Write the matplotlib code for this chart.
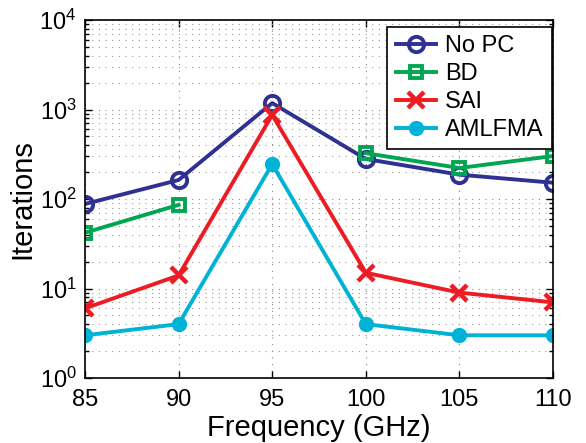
import matplotlib
matplotlib.use("Agg")
import matplotlib.pyplot as plt
import numpy as np

plt.rcParams['font.family'] = ['Liberation Sans', 'DejaVu Sans']
plt.rcParams['mathtext.fontset'] = 'custom'
plt.rcParams['mathtext.rm'] = 'Liberation Sans'
plt.rcParams['mathtext.it'] = 'Liberation Sans:italic'
plt.rcParams['mathtext.bf'] = 'Liberation Sans:bold'

freq = [85, 90, 95, 100, 105, 110]
no_pc = [88, 163, 1180, 280, 187, 152]
bd = [42, 86, np.nan, 325, 222, 302]
sai = [6, 14, 870, 15, 9, 7]
amlfma = [3, 4, 245, 4, 3, 3]
labels = ["No PC", "BD", "SAI", "AMLFMA"]

fig = plt.figure(figsize=(5.86, 4.43), dpi=100)
ax = fig.add_axes([85/586, 1-378/443, (553-85)/586, (378-20)/443])

lw = 2.8
ax.plot(freq, no_pc, color='#2e3192', lw=lw, marker='o', ms=11, mfc='none', mew=2.8, label=labels[0])
ax.plot(freq, bd, color='#00a651', lw=lw, marker='s', ms=9, mfc='none', mew=2.8, label=labels[1])
ax.plot(freq, sai, color='#ed1c24', lw=lw, marker='x', ms=12, mew=3.2, label=labels[2])
ax.plot(freq, amlfma, color='#00b2d6', lw=lw, marker='o', ms=10, label=labels[3])

ax.set_yscale('log')
ax.set_xlim(85, 110)
ax.set_ylim(1, 1e4)
ax.set_xticks(freq)
ax.set_yticks([1, 10, 100, 1000, 10000])
ax.grid(True, which='major', linestyle=(0, (1, 5)), color='#888888', lw=0.8)
ax.grid(True, which='minor', axis='y', linestyle=(0, (1, 5)), color='#999999', lw=0.8)
ax.tick_params(which='both', direction='in', top=True, right=True, labelsize=17, width=1)
ax.tick_params(which='major', length=5)
ax.tick_params(which='minor', length=3)
ax.tick_params(axis='x', pad=8)
ax.tick_params(axis='y', pad=6)
for s in ax.spines.values():
    s.set_linewidth(1.2)
ax.set_xlabel('Frequency (GHz)', fontsize=21, labelpad=2)
ax.set_ylabel('Iterations', fontsize=21, labelpad=2)
leg = ax.legend(loc='upper right', bbox_to_anchor=(0.998, 0.98), fontsize=17, fancybox=False,
                edgecolor='black', framealpha=1, handlelength=1.7, handletextpad=0.4,
                borderaxespad=0.0, labelspacing=0.25, borderpad=0.35)
leg.get_frame().set_linewidth(1.2)

fig.savefig('out.png', dpi=100)
